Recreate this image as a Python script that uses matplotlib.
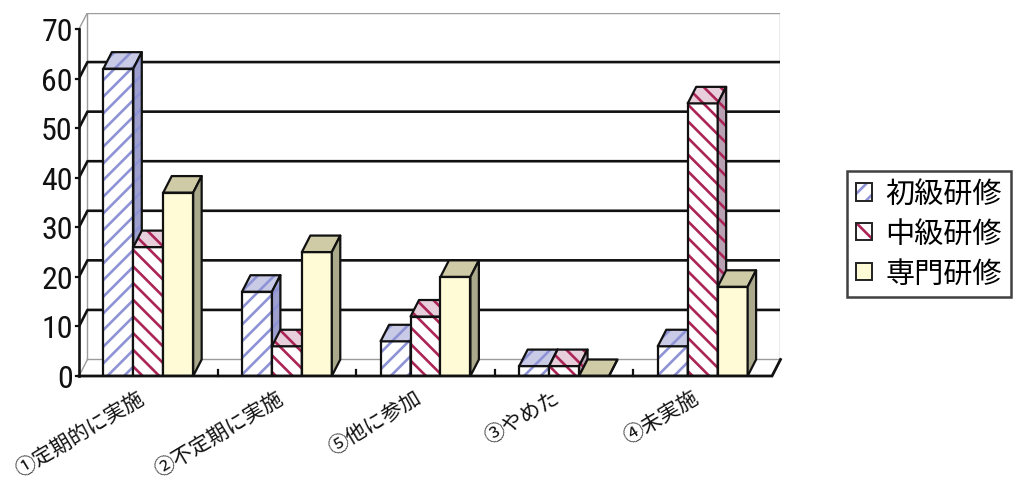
import numpy as np
import matplotlib
matplotlib.use('Agg')
import matplotlib.pyplot as plt
from matplotlib.patches import Polygon, Patch
from matplotlib import font_manager

plt.rcParams['font.family'] = ['Noto Sans CJK JP', 'DejaVu Sans']
plt.rcParams['hatch.linewidth'] = 1.9

# 研修の実施状況（%）
categories = ['①定期的に実施', '②不定期に実施', '⑤他に参加', '③やめた', '④未実施']
series = ['初級研修', '中級研修', '専門研修']
shokyu = [62, 17, 7, 2, 6]
chukyu = [26, 6, 12, 2, 55]
senmon = [37, 25, 20, 0, 18]
yticks = [0, 10, 20, 30, 40, 50, 60, 70]

# 前面・上面・側面の色とハッチ
styles = [
    dict(front='white', top='#c9cae6', side='#9da0cf', hc='#8e93d6', hatch='//'),
    dict(front='white', top='#e8cfdc', side='#b7a1b2', hc='#ac2456', hatch='\\\\'),
    dict(front='#fffbd6', top='#cfcba6', side='#aaa98b', hc=None, hatch=None),
]

# 奥行き（データ単位）
dx = 0.061
dy = 3.33
bar_w = 0.216
ymax = 70

# 数字用の細いフォント
num_font = 'Liberation Sans'
for name in ['Liberation Sans Narrow', 'Roboto Condensed', 'DejaVu Sans Condensed']:
    try:
        font_manager.findfont(name, fallback_to_default=False)
        num_font = name
        break
    except ValueError:
        pass

fig = plt.figure(figsize=(10.17, 4.85), dpi=100)
ax = fig.add_axes([79 / 1017, 108 / 485, 701.5 / 1017, 363.5 / 485])
ax.set_xlim(-0.5, 4.5 + dx)
ax.set_ylim(0, ymax + dy)
ax.axis('off')

x = np.arange(len(categories))
x_lo, x_hi = -0.5, len(categories) - 0.5

# 奥の壁・床・左の壁
wall = '#9c9c9c'
ax.plot([x_lo + dx, x_hi + dx, x_hi + dx, x_lo + dx, x_lo + dx],
        [dy, dy, ymax + dy, ymax + dy, dy], color=wall, lw=1.0, zorder=1)
ax.plot([x_lo, x_lo + dx], [0, dy], color=wall, lw=1.0, zorder=1)
ax.plot([x_lo, x_lo + dx], [ymax, ymax + dy], color=wall, lw=1.0, zorder=1)

# 目盛線
for v in yticks[1:-1]:
    ax.plot([x_lo, x_lo + dx, x_hi + dx], [v, v + dy, v + dy],
            color='#111111', lw=1.9, zorder=1.5, solid_capstyle='butt')

# 縦軸
ax.plot([x_lo, x_lo], [0, ymax], color='#111111', lw=1.9, zorder=6, clip_on=False)
for v in yticks:
    ax.plot([x_lo - 0.025, x_lo], [v, v], color='#111111', lw=1.6, zorder=6, clip_on=False)
    ax.text(x_lo - 0.045, v - 0.5, str(v), ha='right', va='center',
            fontsize=23, family=num_font, color='#111111')

# 床の前縁と区切り
ax.plot([x_lo, x_hi, x_hi + dx], [0, 0, dy], color='#111111', lw=2.0,
        zorder=6, clip_on=False, solid_joinstyle='miter')
for b in np.arange(x_lo + 1, x_hi):
    ax.plot([b, b], [0, 1.3], color='#111111', lw=1.6, zorder=6, clip_on=False)

# 3D風の棒
values = [shokyu, chukyu, senmon]
for j, (vals, st) in enumerate(zip(values, styles)):
    z = 3 + j
    left = x + (j - 1.5) * bar_w
    if st['hatch']:
        ax.bar(left, vals, bar_w, align='edge', color=st['front'], edgecolor=st['hc'],
               hatch=st['hatch'], lw=0, zorder=z)
    else:
        ax.bar(left, vals, bar_w, align='edge', color=st['front'], lw=0, zorder=z)
    ax.bar(left, vals, bar_w, align='edge', fill=False, edgecolor='#111111', lw=1.6, zorder=z)
    for x0, h in zip(left, vals):
        top = [(x0, h), (x0 + bar_w, h), (x0 + bar_w + dx, h + dy), (x0 + dx, h + dy)]
        side = [(x0 + bar_w, 0), (x0 + bar_w + dx, dy), (x0 + bar_w + dx, h + dy), (x0 + bar_w, h)]
        for pts, fc in ((top, st['top']), (side, st['side'])):
            if st['hatch']:
                ax.add_patch(Polygon(pts, facecolor=fc, edgecolor=st['hc'], hatch=st['hatch'],
                                     lw=0, zorder=z))
            else:
                ax.add_patch(Polygon(pts, facecolor=fc, edgecolor='none', zorder=z))
            ax.add_patch(Polygon(pts, fill=False, edgecolor='#111111', lw=1.6,
                                 joinstyle='round', zorder=z))

# 項目名
for xi, cat in zip(x, categories):
    ax.text(xi - 0.043, -3.9, cat, rotation=31, rotation_mode='anchor',
            ha='right', va='center', fontsize=15, color='#111111')

# 凡例
handles = []
for st in styles:
    if st['hatch']:
        fill = Patch(facecolor=st['front'], edgecolor=st['hc'], hatch=st['hatch'], lw=0)
    else:
        fill = Patch(facecolor=st['front'], lw=0)
    edge = Patch(fill=False, edgecolor='#222222', lw=1.4)
    handles.append((fill, edge))
leg = fig.legend(handles, series, loc='center', bbox_to_anchor=(0.9135, 0.5155),
                 fontsize=21, frameon=True, fancybox=False, edgecolor='#111111',
                 handlelength=0.55, handleheight=0.55, handletextpad=0.45,
                 labelspacing=0.33, borderpad=0.3, borderaxespad=0)
leg.get_frame().set_linewidth(1.8)

fig.savefig('out.png', dpi=100)
